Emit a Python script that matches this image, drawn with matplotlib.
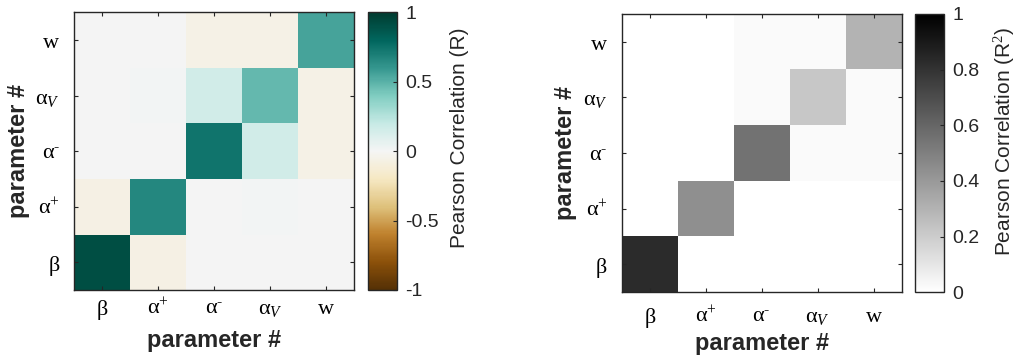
import numpy as np
import matplotlib
matplotlib.use('Agg')
import matplotlib.pyplot as plt

# Nombres de los parámetros del modelo (orden de filas y columnas, de abajo hacia arriba)
parametros = [r'$\mathrm{β}$', r'$\mathrm{α}^{+}$', r'$\mathrm{α}^{‐}$', r'$\mathrm{α}_{V}$', r'$\mathrm{w}$']

# Correlación de Pearson (R) entre parámetros generados y recuperados
fila_beta   = [0.91, -0.07, 0.00, 0.00, 0.00]
fila_alfa_p = [-0.07, 0.66, 0.00, 0.01, 0.00]
fila_alfa_n = [0.00, 0.00, 0.74, 0.15, -0.06]
fila_alfa_v = [0.00, 0.01, 0.15, 0.47, -0.06]
fila_w      = [0.00, 0.00, -0.06, -0.06, 0.55]

# R^2
r2_beta   = [0.83, 0.00, 0.00, 0.00, 0.00]
r2_alfa_p = [0.00, 0.44, 0.00, 0.00, 0.00]
r2_alfa_n = [0.00, 0.00, 0.55, 0.02, 0.02]
r2_alfa_v = [0.00, 0.00, 0.02, 0.22, 0.02]
r2_w      = [0.00, 0.00, 0.02, 0.02, 0.30]

matriz_r = np.array([fila_beta, fila_alfa_p, fila_alfa_n, fila_alfa_v, fila_w])
matriz_r2 = np.array([r2_beta, r2_alfa_p, r2_alfa_n, r2_alfa_v, r2_w])

plt.rcParams['font.family'] = ['Liberation Sans', 'DejaVu Sans']
plt.rcParams['mathtext.fontset'] = 'custom'
plt.rcParams['mathtext.rm'] = 'Liberation Serif'
plt.rcParams['mathtext.it'] = 'Liberation Serif:italic'
plt.rcParams['axes.edgecolor'] = '#262626'
plt.rcParams['xtick.color'] = '#262626'
plt.rcParams['ytick.color'] = '#262626'

gris = '#262626'

fig = plt.figure(figsize=(10.18, 3.56), dpi=100)


def mapa(pos_ax, pos_cb, matriz, cmap, vmin, vmax, ticks_cb, etiqueta_cb,
         pad_x, pad_xlabel, y_etiqueta, pad_cb):
    ax = fig.add_axes(pos_ax)
    im = ax.imshow(matriz, cmap=cmap, vmin=vmin, vmax=vmax, origin='lower',
                   aspect='auto', interpolation='nearest')
    ax.set_xticks(range(len(parametros)))
    ax.set_yticks(range(len(parametros)))
    ax.set_xticklabels(parametros, fontsize=16, color='k')
    ax.set_yticklabels(parametros, fontsize=16, color='k')
    ax.tick_params(direction='in', top=True, right=True, length=3, width=0.8)
    ax.tick_params(axis='x', pad=pad_x)
    ax.tick_params(axis='y', pad=10)
    ax.set_xlabel('parameter #', fontsize=17, fontweight='bold', color=gris, labelpad=pad_xlabel)
    ax.set_ylabel('parameter #', fontsize=17, fontweight='bold', color=gris, labelpad=4)
    for s in ax.spines.values():
        s.set_linewidth(1.0)

    cax = fig.add_axes(pos_cb)
    cb = fig.colorbar(im, cax=cax, ticks=ticks_cb)
    cb.ax.tick_params(direction='in', length=3, width=0.8, labelsize=14, labelcolor=gris, pad=6)
    cb.ax.set_yticklabels([('%g' % t) for t in ticks_cb])
    cb.outline.set_linewidth(1.0)
    cb.set_label(etiqueta_cb, fontsize=15, color=gris, labelpad=pad_cb)
    cb.ax.yaxis.label.set_y(y_etiqueta)
    return ax


mapa([0.0727, 0.1854, 0.2750, 0.780], [0.3615, 0.1854, 0.0285, 0.780],
     matriz_r, 'BrBG', -1, 1, [-1, -0.5, 0, 0.5, 1], 'Pearson Correlation (R)',
     6, 5, 0.55, 8)
mapa([0.6107, 0.1790, 0.2750, 0.782], [0.8988, 0.1790, 0.0285, 0.782],
     matriz_r2, 'gray_r', 0, 1, [0, 0.2, 0.4, 0.6, 0.8, 1], r'Pearson Correlation (R$^2$)',
     10, 1, 0.54, 9)

plt.savefig('out.png', dpi=100)
